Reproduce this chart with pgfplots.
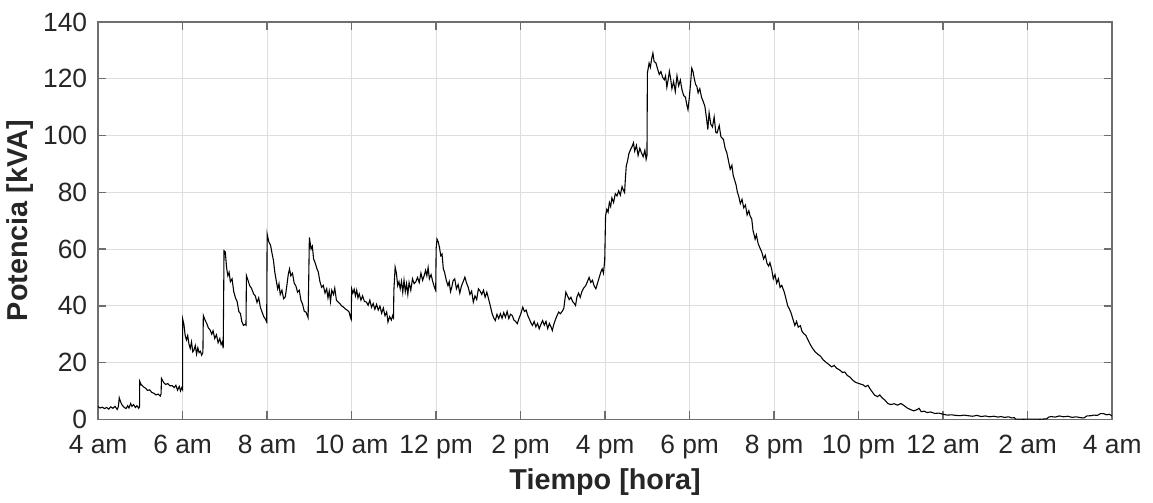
\documentclass[border=0pt]{standalone}
\usepackage{pgfplots}
\pgfplotsset{compat=1.18}
\usepackage{fontspec}
\setmainfont{Liberation Sans}
\definecolor{mtext}{RGB}{38,38,38}
\definecolor{mgrid}{RGB}{222,222,222}
\definecolor{maxis}{RGB}{110,110,110}

\begin{document}
\begin{tikzpicture}
\begin{axis}[
    scale only axis,
    width=509bp, height=199.5bp,
    xmin=0, xmax=24, ymin=0, ymax=140,
    xtick={0,2,...,24},
    xticklabels={4 am,6 am,8 am,10 am,12 pm,2 pm,4 pm,6 pm,8 pm,10 pm,12 am,2 am,4 am},
    ytick={0,20,...,140},
    grid=major,
    major grid style={mgrid, line width=0.5pt},
    axis line style={maxis, line width=0.7pt},
    tick style={maxis, line width=0.7pt},
    tick align=inside,
    major tick length=4bp,
    ticklabel style={font=\fontsize{13.3}{13.3}\selectfont, text=mtext},
    xticklabel style={yshift=-4.5bp},
    yticklabel style={xshift=-2bp},
    /pgf/number format/assume math mode=true,
    xlabel={Tiempo [hora]},
    ylabel={Potencia [kVA]},
    xlabel style={yshift=2bp},
    ylabel style={yshift=-2bp},
    label style={font=\fontsize{14.5}{15}\selectfont\bfseries, text=mtext},
]
\coordinate (sw) at (rel axis cs:0,0);
\coordinate (ne) at (rel axis cs:1,1);
\addplot[black, line width=0.55pt] coordinates {
(0,4.5) (0.05,4.0) (0.1,4.3) (0.15,3.8) (0.2,4.2) (0.25,3.6) (0.3,4.4) (0.35,3.9) (0.4,4.6) (0.45,3.5) (0.48,4.5) (0.5,7.6) (0.53,6.2) (0.57,5.0) (0.62,4.2) (0.66,3.8) (0.7,4.8) (0.73,4.0) (0.77,5.6) (0.8,4.6) (0.84,5.2) (0.88,4.2) (0.92,4.8) (0.96,3.9) (0.98,4.4)
(0.985,13.4) (1.02,12.2) (1.07,11.5) (1.12,11.0) (1.17,10.2) (1.22,10.4) (1.27,9.5) (1.32,9.2) (1.37,8.6) (1.42,8.9) (1.47,8.2) (1.49,9.0)
(1.5,14.4) (1.55,13.0) (1.6,12.3) (1.65,12.6) (1.7,11.8) (1.75,11.9) (1.8,11.2) (1.84,12.0) (1.88,10.3) (1.92,11.6) (1.95,10.0) (1.98,11.2) (2.0,10.5)
(2.0,35.4) (2.03,33.5) (2.06,29.6) (2.09,28.0) (2.12,29.5) (2.15,26.5) (2.18,25.0) (2.21,27.3) (2.24,23.8) (2.27,24.5) (2.3,26.0) (2.33,23.0) (2.36,25.2) (2.39,23.5) (2.42,24.0) (2.45,22.6) (2.48,23.5)
(2.49,36.6) (2.53,35.0) (2.57,33.8) (2.61,32.2) (2.65,31.5) (2.69,30.0) (2.72,31.2) (2.76,28.5) (2.8,29.8) (2.84,27.0) (2.88,28.5) (2.91,26.4) (2.94,27.3) (2.96,25.0)
(2.97,41.4) (2.98,59.4) (3.01,59.0) (3.04,53.5) (3.07,50.6) (3.1,51.8) (3.13,48.5) (3.17,49.5) (3.21,45.0) (3.25,42.8) (3.29,41.5) (3.33,38.0) (3.37,37.2) (3.4,34.5) (3.44,33.1) (3.48,33.5) (3.5,33.2)
(3.51,50.6) (3.55,48.8) (3.59,47.0) (3.63,46.2) (3.68,44.2) (3.72,43.5) (3.76,41.2) (3.8,42.8) (3.84,39.5) (3.88,37.8) (3.92,36.2) (3.96,35.3) (3.99,34.3)
(4.0,65.3) (4.04,62.5) (4.08,61.4) (4.12,58.2) (4.15,56.0) (4.18,52.0) (4.22,48.5) (4.25,46.0) (4.28,47.8) (4.31,44.0) (4.35,45.5) (4.39,42.5) (4.43,43.2) (4.47,47.5) (4.5,51.0) (4.53,53.0) (4.56,50.6) (4.6,51.5) (4.64,48.0) (4.68,47.0) (4.72,44.8) (4.76,45.5) (4.8,42.0) (4.84,40.5) (4.88,38.0) (4.92,37.8) (4.95,36.6) (4.97,35.8)
(5.0,64.1) (5.04,60.0) (5.07,61.0) (5.1,56.5) (5.14,55.0) (5.18,53.0) (5.21,52.0) (5.25,48.5) (5.29,46.5) (5.33,47.2) (5.37,44.5) (5.41,46.0) (5.44,42.8) (5.47,45.2) (5.5,41.5) (5.53,45.5) (5.57,44.0) (5.6,46.2) (5.64,42.0) (5.68,41.3) (5.72,40.8) (5.76,40.0) (5.8,39.6) (5.85,38.9) (5.9,38.4) (5.94,37.8) (5.97,36.0) (5.99,35.2)
(6.0,46.0) (6.03,44.5) (6.06,45.8) (6.09,43.5) (6.12,45.5) (6.15,42.8) (6.18,44.2) (6.22,42.0) (6.26,43.5) (6.3,41.6) (6.35,41.3) (6.39,40.2) (6.43,42.0) (6.47,39.5) (6.51,40.8) (6.55,38.8) (6.59,40.5) (6.63,38.5) (6.67,39.9) (6.71,37.4) (6.75,39.2) (6.79,36.5) (6.83,37.8) (6.86,34.3) (6.9,36.2) (6.94,35.0) (6.97,36.5) (6.99,35.8)
(7.0,45.5) (7.03,53.6) (7.06,51.5) (7.09,47.1) (7.12,48.5) (7.15,46.0) (7.18,48.6) (7.21,44.8) (7.24,49.0) (7.27,45.0) (7.3,47.8) (7.33,44.0) (7.36,48.2) (7.4,45.5) (7.44,49.5) (7.48,47.8) (7.52,48.5) (7.56,50.0) (7.6,48.2) (7.64,51.5) (7.68,49.0) (7.72,50.8) (7.75,52.5) (7.78,50.6) (7.81,53.5) (7.84,49.5) (7.88,51.0) (7.92,48.5) (7.96,46.5) (7.99,45.4)
(8.0,60.0) (8.02,63.5) (8.05,62.5) (8.08,60.5) (8.11,57.6) (8.14,58.2) (8.17,53.0) (8.2,51.8) (8.24,49.0) (8.28,47.1) (8.31,48.5) (8.34,45.0) (8.37,46.5) (8.4,48.8) (8.44,49.5) (8.48,46.0) (8.52,47.5) (8.56,44.5) (8.6,47.0) (8.64,48.5) (8.68,50.1) (8.72,48.0) (8.76,46.5) (8.8,44.0) (8.84,45.2) (8.88,41.3) (8.92,43.5) (8.96,42.2)
(9.0,46.0) (9.04,45.2) (9.08,44.0) (9.12,45.5) (9.16,43.0) (9.2,44.8) (9.24,42.5) (9.28,40.1) (9.32,37.5) (9.36,35.8) (9.4,34.8) (9.44,37.0) (9.48,35.5) (9.52,37.2) (9.56,35.6) (9.6,37.6) (9.64,36.0) (9.68,38.0) (9.72,35.5) (9.76,37.0) (9.8,36.6) (9.84,35.0) (9.88,34.5) (9.92,33.7) (9.96,35.5)
(10.0,37.0) (10.05,39.5) (10.09,38.0) (10.13,38.5) (10.17,36.5) (10.21,35.2) (10.25,33.8) (10.28,33.1) (10.32,34.5) (10.36,32.6) (10.4,33.8) (10.44,31.9) (10.48,33.5) (10.52,34.8) (10.56,33.2) (10.6,34.5) (10.64,32.0) (10.68,33.8) (10.72,32.5) (10.75,31.3) (10.78,33.2) (10.82,35.0) (10.86,36.5) (10.9,37.8) (10.94,37.2) (10.98,38.0) (11.02,39.0)
(11.07,44.8) (11.11,43.5) (11.15,42.2) (11.19,43.0) (11.23,41.5) (11.27,40.8) (11.3,40.1) (11.33,43.0) (11.37,44.5) (11.41,43.0) (11.45,45.0) (11.49,46.2) (11.54,47.1) (11.58,48.5) (11.62,50.0) (11.66,48.2) (11.7,49.0) (11.74,47.0) (11.78,46.0) (11.82,48.0) (11.86,50.0) (11.9,52.0) (11.93,53.0) (11.96,51.5) (11.99,56.0)
(12.01,71.7) (12.04,74.0) (12.07,73.0) (12.1,76.4) (12.13,75.0) (12.16,78.0) (12.2,76.4) (12.24,79.5) (12.28,78.7) (12.32,80.5) (12.36,79.0) (12.4,82.0) (12.43,80.8) (12.46,79.9) (12.48,85.0) (12.5,89.2) (12.53,91.0) (12.56,93.5) (12.6,95.0) (12.64,96.2) (12.67,97.4) (12.7,94.5) (12.74,96.5) (12.78,93.0) (12.82,95.5) (12.86,93.9) (12.9,92.5) (12.94,94.8) (12.97,91.6) (12.99,93.0)
(13.0,122.0) (13.04,125.5) (13.07,124.0) (13.1,127.0) (13.13,129.0) (13.16,126.0) (13.2,125.6) (13.24,123.5) (13.28,121.5) (13.32,122.5) (13.36,120.5) (13.4,119.6) (13.43,121.0) (13.46,117.0) (13.49,119.5) (13.52,122.6) (13.55,120.0) (13.58,116.5) (13.62,119.0) (13.66,115.5) (13.7,121.0) (13.74,117.5) (13.78,119.5) (13.82,116.0) (13.86,114.0) (13.9,113.5) (13.93,111.0) (13.96,109.1) (13.99,113.0)
(14.02,118.0) (14.05,123.7) (14.08,122.5) (14.11,120.0) (14.14,118.0) (14.17,117.3) (14.2,115.0) (14.24,116.5) (14.28,113.5) (14.32,112.0) (14.36,110.3) (14.4,106.0) (14.43,102.1) (14.46,108.0) (14.5,104.0) (14.54,103.0) (14.58,106.5) (14.62,101.0) (14.65,100.9) (14.7,103.5) (14.74,99.5) (14.8,98.6) (14.84,95.5) (14.88,93.9) (14.92,91.0) (14.96,88.1)
(15.0,89.5) (15.03,86.0) (15.06,84.5) (15.1,82.5) (15.13,80.0) (15.16,78.7) (15.2,76.0) (15.24,77.5) (15.28,74.5) (15.32,75.5) (15.36,72.0) (15.4,73.5) (15.43,71.7) (15.47,70.5) (15.5,66.5) (15.55,63.5) (15.58,65.0) (15.62,62.0) (15.66,60.5) (15.71,58.8) (15.75,56.5) (15.79,57.8) (15.83,55.0) (15.87,54.0) (15.9,55.2) (15.94,53.0) (15.98,49.5)
(16.02,51.0) (16.06,48.0) (16.1,49.5) (16.14,46.5) (16.18,47.2) (16.24,44.8) (16.28,42.5) (16.32,40.0) (16.36,38.9) (16.4,37.5) (16.44,35.5) (16.49,33.1) (16.53,34.5) (16.57,32.5) (16.62,33.0) (16.66,31.0) (16.7,30.2) (16.75,29.6) (16.8,28.0) (16.85,26.5) (16.9,25.2) (16.97,23.8)
(17.03,23.0) (17.1,22.2) (17.16,21.0) (17.22,20.2) (17.28,19.5) (17.36,18.5) (17.42,19.0) (17.48,18.0) (17.55,17.4) (17.62,16.5) (17.67,16.7) (17.73,15.5) (17.8,14.8) (17.86,13.8) (17.91,13.2) (17.97,12.8)
(18.03,12.5) (18.1,12.2) (18.16,11.5) (18.22,12.0) (18.28,10.5) (18.33,9.5) (18.38,8.5) (18.45,8.0) (18.5,8.6) (18.56,7.5) (18.62,6.8) (18.69,5.6) (18.76,5.2) (18.84,5.5) (18.92,5.0) (19.0,5.6) (19.08,4.8) (19.15,4.0) (19.22,3.5) (19.3,3.0) (19.38,3.4) (19.43,3.9) (19.48,2.7) (19.55,2.9) (19.62,2.4) (19.7,2.6) (19.8,2.1) (19.9,2.2)
(20.0,1.8) (20.1,1.5) (20.2,1.6) (20.3,1.4) (20.4,1.3) (20.5,1.5) (20.58,1.3) (20.7,1.1) (20.8,1.4) (20.9,1.0) (21.0,1.2) (21.1,0.9) (21.2,1.1) (21.3,0.8) (21.37,1.0) (21.45,0.7) (21.55,0.9) (21.62,0.5) (21.68,0.6) (21.72,0.1) (21.9,0.05) (22.1,0.1) (22.3,0.05) (22.45,0.2)
(22.5,0.8) (22.55,1.0) (22.65,0.8) (22.75,1.2) (22.85,0.9) (22.95,1.1) (23.05,0.7) (23.15,0.9) (23.25,0.6) (23.33,0.5) (23.4,1.2) (23.5,1.3) (23.57,1.5) (23.65,1.4) (23.72,2.0) (23.8,2.0) (23.87,1.6) (23.93,1.8) (24.0,1.2)
};
\end{axis}
\path ([shift={(-47bp,-36.5bp)}]sw) rectangle ([shift={(20.5bp,11bp)}]ne);
\end{tikzpicture}
\end{document}
